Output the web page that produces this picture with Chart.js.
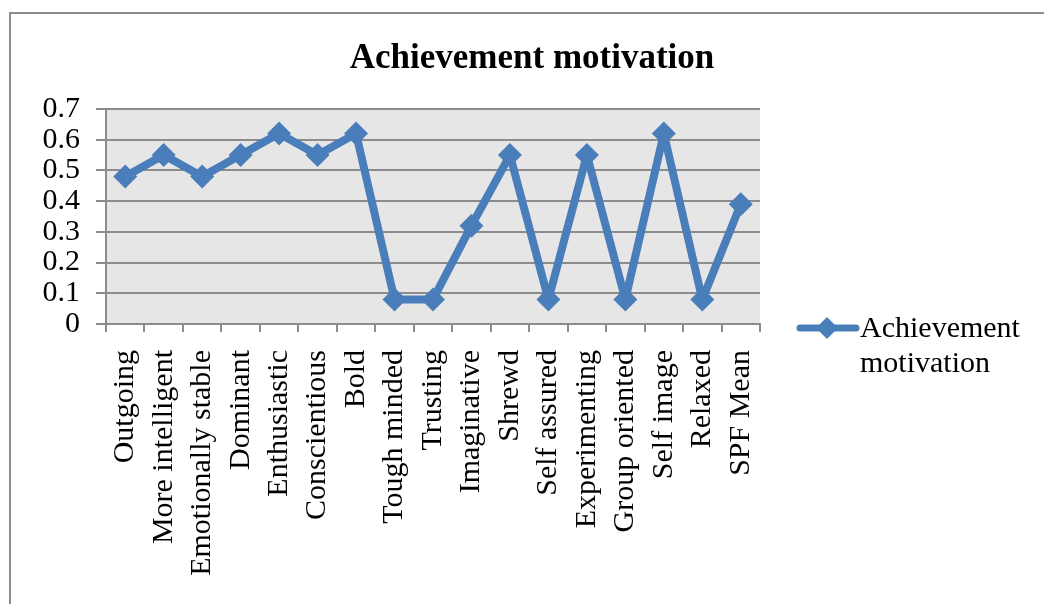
<!DOCTYPE html>
<html>
<head>
<meta charset="utf-8">
<script src="https://cdn.jsdelivr.net/npm/chart.js@4"></script>
<style>
  body { margin: 0; background: #fff; }
  #frame { position: absolute; left: 9px; top: 12px; width: 2000px; height: 2000px;
           border-left: 2px solid #8c8c8c; border-top: 2px solid #8c8c8c; pointer-events: none; }
  #wrap { position: absolute; left: 0; top: 0; width: 1044px; height: 604px; }
</style>
</head>
<body>
<div id="wrap"><canvas id="grafico"></canvas></div>
<div id="frame"></div>
<script>
// dados
const categorias = ['Outgoing', 'More intelligent', 'Emotionally stable', 'Dominant', 'Enthusiastic',
    'Conscientious', 'Bold', 'Tough minded', 'Trusting', 'Imaginative', 'Shrewd', 'Self assured',
    'Experimenting', 'Group oriented', 'Self image', 'Relaxed', 'SPF Mean'];
const valores = [0.48, 0.55, 0.48, 0.55, 0.62, 0.55, 0.62, 0.08, 0.08, 0.32, 0.55, 0.08, 0.55, 0.08, 0.62, 0.08, 0.39];
const ticksY = [0, 0.1, 0.2, 0.3, 0.4, 0.5, 0.6, 0.7];
const nomeSerie = 'Achievement motivation';
const titulo = 'Achievement motivation';

const fonte = 'Liberation Serif';
const azul = '#4a7ebb';
const cinza = '#8c8c8c';

// fundo cinza da area do grafico
const fundoArea = {
    id: 'fundoArea',
    beforeDraw(chart) {
        const a = chart.chartArea;
        const ctx = chart.ctx;
        ctx.save();
        ctx.fillStyle = '#e6e6e6';
        ctx.fillRect(a.left, a.top, a.right - a.left, a.bottom - a.top);
        ctx.restore();
    }
};

// legenda em duas linhas, a direita
const legendaDireita = {
    id: 'legendaDireita',
    afterDraw(chart) {
        const ctx = chart.ctx;
        const ds = chart.data.datasets[0];
        const x0 = 800, y0 = 328;
        ctx.save();
        ctx.strokeStyle = ds.borderColor;
        ctx.lineWidth = 7;
        ctx.lineCap = 'round';
        ctx.beginPath();
        ctx.moveTo(x0, y0);
        ctx.lineTo(x0 + 56, y0);
        ctx.stroke();
        ctx.fillStyle = ds.borderColor;
        ctx.beginPath();
        ctx.moveTo(x0 + 27, y0 - 11);
        ctx.lineTo(x0 + 38, y0);
        ctx.lineTo(x0 + 27, y0 + 11);
        ctx.lineTo(x0 + 16, y0);
        ctx.closePath();
        ctx.fill();
        ctx.fillStyle = '#000';
        ctx.font = '30px "' + fonte + '"';
        ctx.textBaseline = 'middle';
        ctx.textAlign = 'left';
        const partes = ds.label.split(' ');
        ctx.fillText(partes[0], x0 + 60, y0 + 1);
        ctx.fillText(partes.slice(1).join(' '), x0 + 60, y0 + 36);
        ctx.restore();
    }
};

const dados = {
    labels: categorias,
    datasets: [{
        label: nomeSerie,
        data: valores,
        borderColor: azul,
        backgroundColor: azul,
        borderWidth: 8,
        borderJoinStyle: 'round',
        pointStyle: 'rectRot',
        pointRadius: 12,
        pointHoverRadius: 12,
        pointBorderWidth: 0,
        tension: 0
    }]
};

const config = {
    type: 'line',
    data: dados,
    plugins: [fundoArea, legendaDireita],
    options: {
        responsive: false,
        animation: false,
        devicePixelRatio: 1,
        layout: { padding: { left: 20, right: 0, top: 20, bottom: 0 } },
        scales: {
            x: {
                offset: true,
                grid: { offset: true, drawOnChartArea: false, color: cinza, lineWidth: 2, tickLength: 8 },
                border: { color: cinza, width: 2 },
                ticks: {
                    color: '#000',
                    minRotation: 90,
                    maxRotation: 90,
                    autoSkip: false,
                    padding: 18,
                    font: { size: 30, family: fonte }
                },
                afterFit(scale) { scale.height = 280; }
            },
            y: {
                min: 0,
                max: 0.7,
                afterBuildTicks(scale) { scale.ticks = ticksY.map(v => ({ value: v })); },
                grid: { color: cinza, lineWidth: 2, tickLength: 10 },
                border: { color: cinza, width: 2 },
                ticks: {
                    color: '#000',
                    autoSkip: false,
                    padding: 16,
                    font: { size: 30, family: fonte },
                    callback: v => String(Math.round(v * 10) / 10)
                },
                afterFit(scale) { scale.width = 86; }
            },
            // espaco reservado para a legenda
            espacoLegenda: {
                type: 'linear',
                position: 'right',
                display: true,
                grid: { display: false },
                border: { display: false },
                ticks: { display: false },
                afterFit(scale) { scale.width = 284; }
            }
        },
        plugins: {
            legend: { display: false },
            tooltip: { enabled: false },
            title: {
                display: true,
                text: titulo,
                color: '#000',
                padding: { top: 18, bottom: 29 },
                font: { size: 35, family: fonte, weight: 'bold' }
            }
        }
    }
};

const canvas = document.getElementById('grafico');
canvas.width = 1044;
canvas.height = 604;
const grafico = new Chart(canvas, config);
</script>
</body>
</html>
